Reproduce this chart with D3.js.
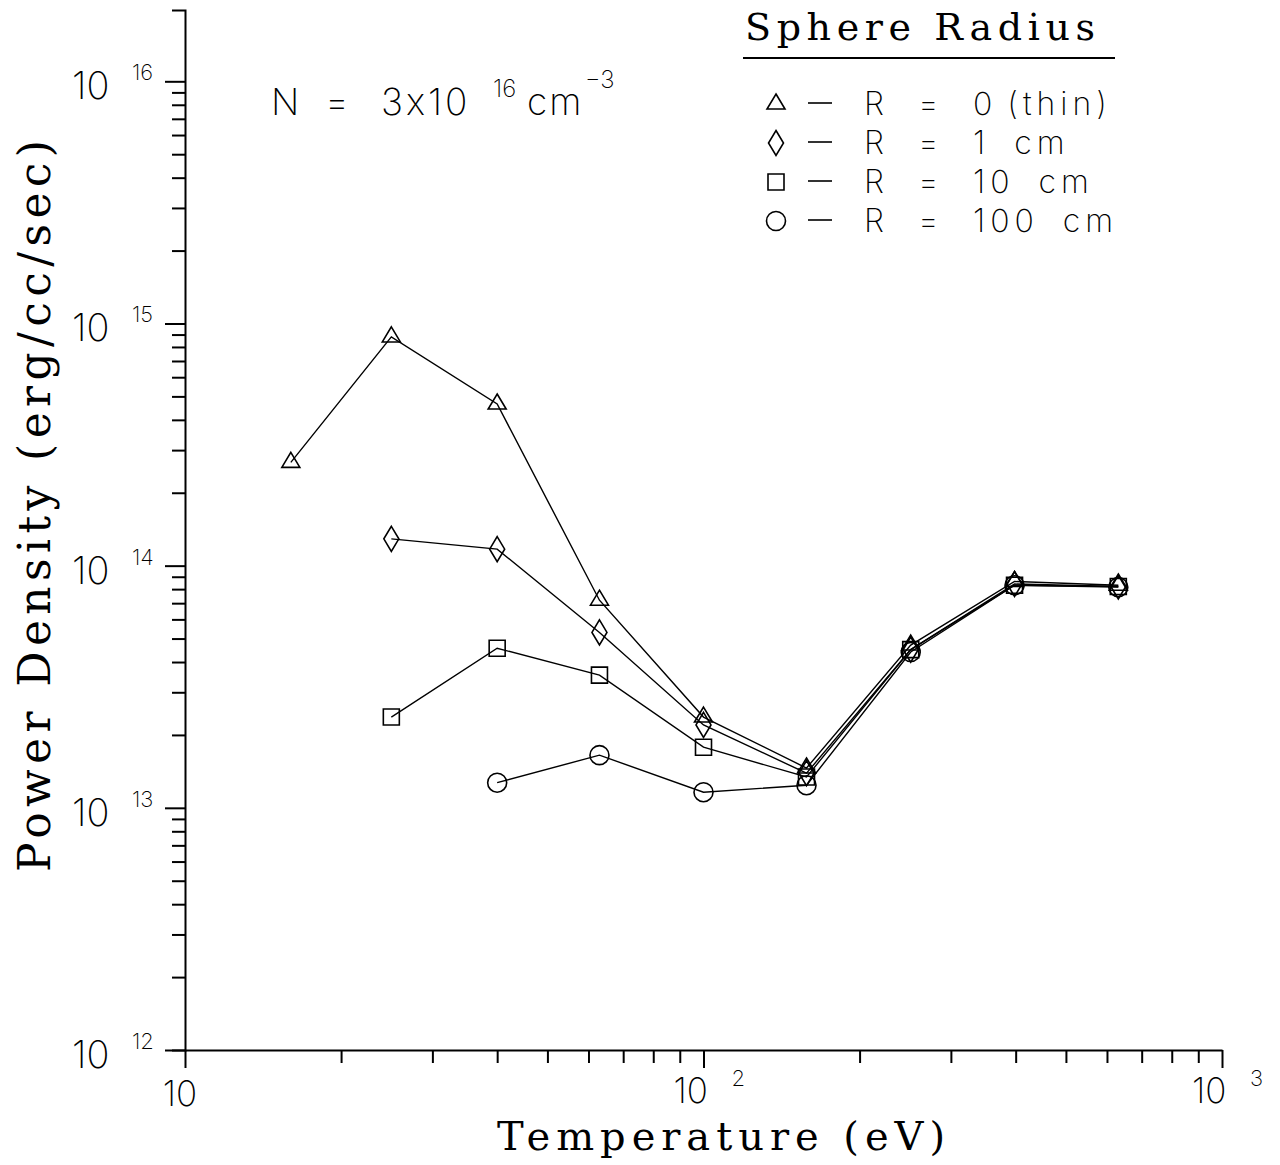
<!DOCTYPE html>
<html>
<head>
<meta charset="utf-8">
<script src="https://cdn.jsdelivr.net/npm/d3@7"></script>
<style>
  body { margin: 0; background: #fff; }
  .sans { font-family: "Inter", "DejaVu Sans", sans-serif; font-weight: 200; }
  .serif { font-family: "DejaVu Serif", serif; }
</style>
</head>
<body>
<div id="chart"></div>
<script>
// Temperature (eV) grid, half-decade steps
const temperature = [16, 25, 40, 63, 100, 158, 251, 398, 631];

// Power density (erg/cc/sec) per sphere radius, null = no point
const thin   = [2.67e14, 8.8e14, 4.65e14, 7.2e13, 2.37e13, 1.46e13, 4.7e13, 8.6e13, 8.3e13];
const r1cm   = [null, 1.29e14, 1.17e14, 5.3e13, 2.2e13, 1.39e13, 4.5e13, 8.4e13, 8.2e13];
const r10cm  = [null, 2.37e13, 4.56e13, 3.53e13, 1.78e13, 1.34e13, 4.5e13, 8.3e13, 8.2e13];
const r100cm = [null, null, 1.27e13, 1.65e13, 1.16e13, 1.24e13, 4.4e13, 8.3e13, 8.15e13];

const seriesValue = ["0", "1", "10", "100"];
const seriesUnit = ["(thin)", "cm", "cm", "cm"];
const seriesMarks = ["triangle", "diamond", "square", "circle"];

const xTickValues = [10, 100, 1000];
const xTickExp = ["", "2", "3"];
const yTickValues = [1e12, 1e13, 1e14, 1e15, 1e16];
const yTickExp = ["12", "13", "14", "15", "16"];

const width = 1280, height = 1165;

const svg = d3.select("#chart").append("svg")
    .attr("width", width)
    .attr("height", height);

const x = d3.scaleLog().domain([10, 1000]).range([185, 1222]);
// axis line runs a bit above 10^16
const y = d3.scaleLog().domain([1e12, 1.97e16]).range([1050, 10]);

function minorTicks(lo, hi) {
    let t = [];
    for (let d = lo; d < hi; d *= 10) {
        for (let k = 2; k <= 9; k++) t.push(d * k);
    }
    return t;
}

// y axis: minor ticks + line, then major ticks
svg.append("g")
    .attr("transform", "translate(185,0)")
    .call(d3.axisLeft(y).tickValues(minorTicks(1e12, 1e16)).tickSize(13).tickSizeOuter(13).tickFormat(""))
    .call(g => g.selectAll("path, line").attr("stroke", "#000").attr("stroke-width", 2));
svg.append("g")
    .attr("transform", "translate(185,0)")
    .call(d3.axisLeft(y).tickValues(yTickValues).tickSize(20).tickFormat(""))
    .call(g => g.select(".domain").remove())
    .call(g => g.selectAll("line").attr("stroke", "#000").attr("stroke-width", 2));

// x axis
svg.append("g")
    .attr("transform", "translate(0,1050)")
    .call(d3.axisBottom(x).tickValues(minorTicks(10, 1000)).tickSize(13).tickSizeOuter(0).tickFormat(""))
    .call(g => g.selectAll("path, line").attr("stroke", "#000").attr("stroke-width", 2));
svg.append("g")
    .attr("transform", "translate(0,1050)")
    .call(d3.axisBottom(x).tickValues(xTickValues).tickSize(18).tickFormat(""))
    .call(g => g.select(".domain").remove())
    .call(g => g.selectAll("line").attr("stroke", "#000").attr("stroke-width", 2));

// y tick labels: "10" with exponent
yTickValues.forEach((v, i) => {
    const t = svg.append("text").attr("class", "sans").attr("font-size", 38);
    t.append("tspan").attr("x", 72).attr("y", y(v) + 18).text("10");
    t.append("tspan").attr("x", 132).attr("y", y(v) - 1).attr("font-size", 22).text(yTickExp[i]);
});

// x tick labels
xTickValues.forEach((v, i) => {
    const t = svg.append("text").attr("class", "sans").attr("font-size", 35);
    if (xTickExp[i] === "") {
        t.attr("text-anchor", "middle").attr("x", x(v) - 5).attr("y", 1106).text("10");
    } else {
        t.append("tspan").attr("x", x(v) - 30).attr("y", 1103).text("10");
        t.append("tspan").attr("x", x(v) + 28).attr("y", 1086).attr("font-size", 22).text(xTickExp[i]);
    }
});

// axis titles
svg.append("text").attr("class", "serif")
    .attr("x", 497).attr("y", 1150)
    .attr("font-size", 40)
    .attr("textLength", 448).attr("lengthAdjust", "spacing")
    .text("Temperature (eV)");

svg.append("text").attr("class", "serif")
    .attr("transform", "translate(50,506) rotate(-90)")
    .attr("text-anchor", "middle")
    .attr("font-size", 44)
    .attr("textLength", 732).attr("lengthAdjust", "spacing")
    .text("Power Density (erg/cc/sec)");

// marker shapes
function markerPath(kind) {
    if (kind === "triangle") return "M0,-10L9,5L-9,5Z";
    if (kind === "diamond") return "M0,-12.5L7.5,0L0,12.5L-7.5,0Z";
    if (kind === "square") return "M-8,-8H8V8H-8Z";
    return d3.arc()({innerRadius: 0, outerRadius: 9.5, startAngle: 0, endAngle: 2 * Math.PI});
}

const allSeries = [thin, r1cm, r10cm, r100cm];

const line = d3.line()
    .defined(d => d[1] != null)
    .x(d => x(d[0]))
    .y(d => y(d[1]));

allSeries.forEach((vals, si) => {
    const pts = temperature.map((t, i) => [t, vals[i]]);
    svg.append("path")
        .datum(pts)
        .attr("fill", "none")
        .attr("stroke", "#000")
        .attr("stroke-width", 1.4)
        .attr("d", line);

    svg.selectAll(".m" + si)
        .data(pts.filter(d => d[1] != null))
        .enter().append("path")
        .attr("class", "m" + si)
        .attr("transform", d => `translate(${x(d[0])},${y(d[1])})`)
        .attr("d", markerPath(seriesMarks[si]))
        .attr("fill", "none")
        .attr("stroke", "#000")
        .attr("stroke-width", 1.6);
});

// density note
const note = svg.append("text").attr("class", "sans").attr("font-size", 37);
note.append("tspan").attr("x", 271).attr("y", 115).text("N");
note.append("tspan").attr("x", 325).attr("y", 115).text("=");
note.append("tspan").attr("x", 381).attr("y", 115).attr("letter-spacing", 3).text("3x10");
note.append("tspan").attr("x", 493).attr("y", 97).attr("font-size", 24).text("16");
note.append("tspan").attr("x", 527).attr("y", 115).attr("letter-spacing", 2).text("cm");
note.append("tspan").attr("x", 585).attr("y", 88).attr("font-size", 24).text("\u22123");

// legend
svg.append("text").attr("class", "serif")
    .attr("x", 745).attr("y", 40)
    .attr("font-size", 38)
    .attr("textLength", 350).attr("lengthAdjust", "spacing")
    .text("Sphere Radius");
svg.append("line")
    .attr("x1", 743).attr("x2", 1115).attr("y1", 58).attr("y2", 58)
    .attr("stroke", "#000").attr("stroke-width", 2);

const legendText = svg.append("text").attr("class", "sans").attr("font-size", 32);

seriesValue.forEach((val, i) => {
    const base = 115 + i * 39;
    svg.append("path")
        .attr("transform", `translate(776,${base - 11})`)
        .attr("d", markerPath(seriesMarks[i]))
        .attr("fill", "none").attr("stroke", "#000").attr("stroke-width", 1.6);
    svg.append("line")
        .attr("x1", 808).attr("x2", 832).attr("y1", base - 12).attr("y2", base - 12)
        .attr("stroke", "#000").attr("stroke-width", 1.6);
    legendText.append("tspan").attr("x", 864).attr("y", base).text("R");
    legendText.append("tspan").attr("x", 918).attr("y", base).text("=");
    legendText.append("tspan").attr("x", 973).attr("y", base)
        .attr("letter-spacing", 5).text(val);
    legendText.append("tspan").attr("dx", i === 0 ? 10 : 24).attr("y", base)
        .attr("letter-spacing", 5).text(seriesUnit[i]);
});
</script>
</body>
</html>
